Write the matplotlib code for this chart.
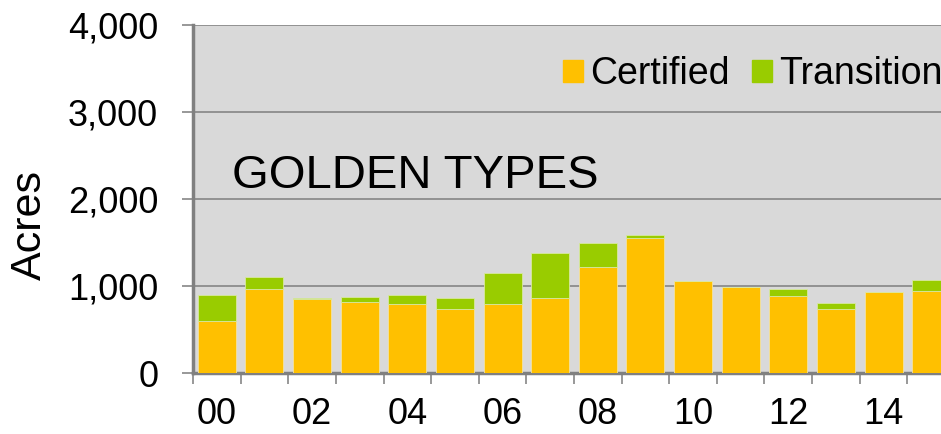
import numpy as np
import matplotlib
matplotlib.use('Agg')
import matplotlib.pyplot as plt
from matplotlib.patches import Patch

plt.rcParams['font.family'] = ['Liberation Sans', 'DejaVu Sans']

years = ['00', '01', '02', '03', '04', '05', '06', '07',
         '08', '09', '10', '11', '12', '13', '14', '15']
certified = [600, 967, 852, 818, 791, 737, 798, 860,
             1219, 1552, 1055, 988, 890, 737, 936, 944]
transition = [298, 141, 15, 57, 103, 127, 356, 520,
              283, 38, 0, 0, 73, 69, 0, 126]

orange = '#FFC000'
green = '#99CC00'
grid_col = '#868686'

fig = plt.figure(figsize=(9.41, 4.34), dpi=100)
# plot area runs past the right edge of the picture, like the original crop
ax = fig.add_axes([193/941, 60.7/434, 762/941, 348.3/434])
ax.set_facecolor('#D9D9D9')

x = np.arange(len(years))
ax.bar(x, certified, width=0.8, color=orange, edgecolor='#F2E2A0', linewidth=0.6, zorder=3)
ax.bar(x, transition, width=0.8, bottom=certified, color=green, edgecolor='#D8E8A0',
       linewidth=0.6, zorder=3)

ax.set_xlim(-0.5, len(years) - 0.5)
ax.set_ylim(0, 4000)
ax.set_yticks(np.arange(0, 4001, 1000))
ax.set_yticklabels(['{:,}'.format(v) for v in range(0, 4001, 1000)])
ax.yaxis.grid(True, color=grid_col, linewidth=1.2, zorder=1)
ax.set_axisbelow(True)

# labels every other year, tick marks between bars
ax.set_xticks(x[::2])
ax.set_xticklabels(years[::2])
ax.set_xticks(np.arange(-0.5, len(years), 1), minor=True)
ax.tick_params(axis='x', which='major', length=0, pad=17, labelsize=26)
ax.tick_params(axis='x', which='minor', length=8, width=1.2, color=grid_col, direction='out')
ax.tick_params(axis='y', length=8, width=1.2, color=grid_col, pad=17, labelsize=26)

for s in ['top', 'right']:
    ax.spines[s].set_visible(False)
for s in ['left', 'bottom']:
    ax.spines[s].set_color('#808080')
    ax.spines[s].set_linewidth(2.5)

fig.text(30/941, 1 - 225/434, 'Acres', rotation=90, fontsize=31, ha='center', va='center')
fig.text(232/941, 1 - 188/434, 'GOLDEN TYPES', fontsize=34, ha='left', va='baseline')

handles = [Patch(color=orange, label='Certified'), Patch(color=green, label='Transition')]
ax.legend(handles=handles, ncol=2, frameon=False, fontsize=27,
          loc='center left', bbox_to_anchor=(563/941, 1 - 74/434),
          bbox_transform=fig.transFigure, borderpad=0, borderaxespad=0,
          handlelength=0.52, handleheight=0.52, handletextpad=0.2, columnspacing=0.6)

fig.savefig('out.png', dpi=100)
